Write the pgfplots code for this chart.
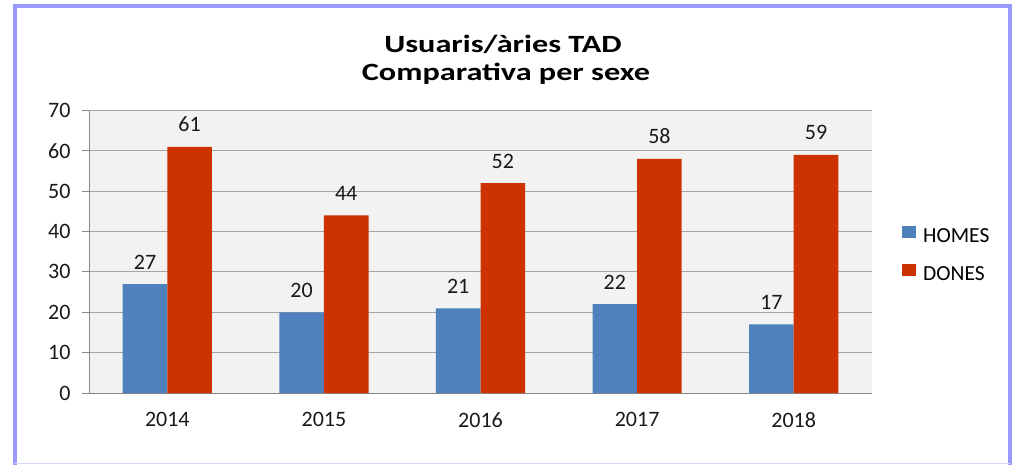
\documentclass[border=0pt]{standalone}
\usepackage{pgfplots}
\pgfplotsset{compat=1.18}
\usepackage{fontspec}
\setmainfont{Carlito}
\newfontfamily\titlefont{Carlito}[FakeStretch=1.3]
\definecolor{homes}{RGB}{79,129,189}
\definecolor{dones}{RGB}{204,51,0}
\definecolor{frame}{RGB}{153,153,255}
\definecolor{plotbg}{RGB}{242,242,242}
\definecolor{gridc}{RGB}{166,166,166}
\definecolor{axisc}{RGB}{134,134,134}
\begin{document}
\begin{tikzpicture}
\path[use as bounding box] (0pt,0pt) rectangle (1019pt,464pt);
\draw[frame, line width=4pt] (15pt,-10pt) -- (15pt,458pt) -- (1010pt,458pt) -- (1010pt,-10pt);
\draw[frame!40, line width=1pt] (15pt,1pt) -- (1010pt,1pt);
\node[anchor=base, inner sep=0pt, font=\fontsize{24.8}{28}\titlefont\bfseries] at (503pt,411.3pt) {Usuaris/àries TAD};
\node[anchor=base, inner sep=0pt, font=\fontsize{24.8}{28}\titlefont\bfseries] at (506pt,383pt) {Comparativa per sexe};
\begin{axis}[
  at={(89pt,71pt)}, anchor=south west,
  scale only axis, width=783pt, height=282.5pt,
  ybar=0pt, bar width=44.6pt,
  xmin=-0.5, xmax=4.5, ymin=0, ymax=70,
  xtick={0,1,2,3,4},
  xticklabels={2014,2015,2016,2017,2018},
  minor xtick={-0.5,0.5,1.5,2.5,3.5,4.5},
  ytick={0,10,...,70},
  axis lines*=left,
  axis line style={axisc, line width=1pt, -},
  axis background/.style={fill=plotbg},
  ymajorgrids, grid style={gridc, line width=1pt},
  tick align=outside,
  major tick length=7pt, minor tick length=7pt,
  xtick style={draw=none},
  ytick style={axisc, line width=1pt},
  minor x tick style={axisc, line width=1pt},
  tick label style={font=\fontsize{22}{26}\selectfont, text=black!90},
  yticklabel style={xshift=-8pt},
  xticklabel style={yshift=-9pt},
  /pgf/number format/assume math mode=true,
  nodes near coords,
  nodes near coords style={font=\fontsize{22}{26}\selectfont, text=black!90, anchor=base, yshift=15pt},
  legend style={at={(1.0383,0.494)}, anchor=west, draw=none, fill=none,
    font=\fontsize{21.5}{25}\selectfont, row sep=21pt, column sep=7pt, inner sep=0pt,
    nodes={inner sep=0pt, text height=14pt, text depth=0pt}},
  legend cell align=left,
  legend image code/.code={\path[#1, draw=none] (0pt,-2.5pt) rectangle (14pt,9.5pt);},
]
\addplot[fill=homes, draw=none] coordinates {(0,27) (1,20) (2,21) (3,22) (4,17)};
\addplot[fill=dones, draw=none] coordinates {(0,61) (1,44) (2,52) (3,58) (4,59)};
\legend{HOMES,DONES}
\end{axis}
\end{tikzpicture}
\end{document}
